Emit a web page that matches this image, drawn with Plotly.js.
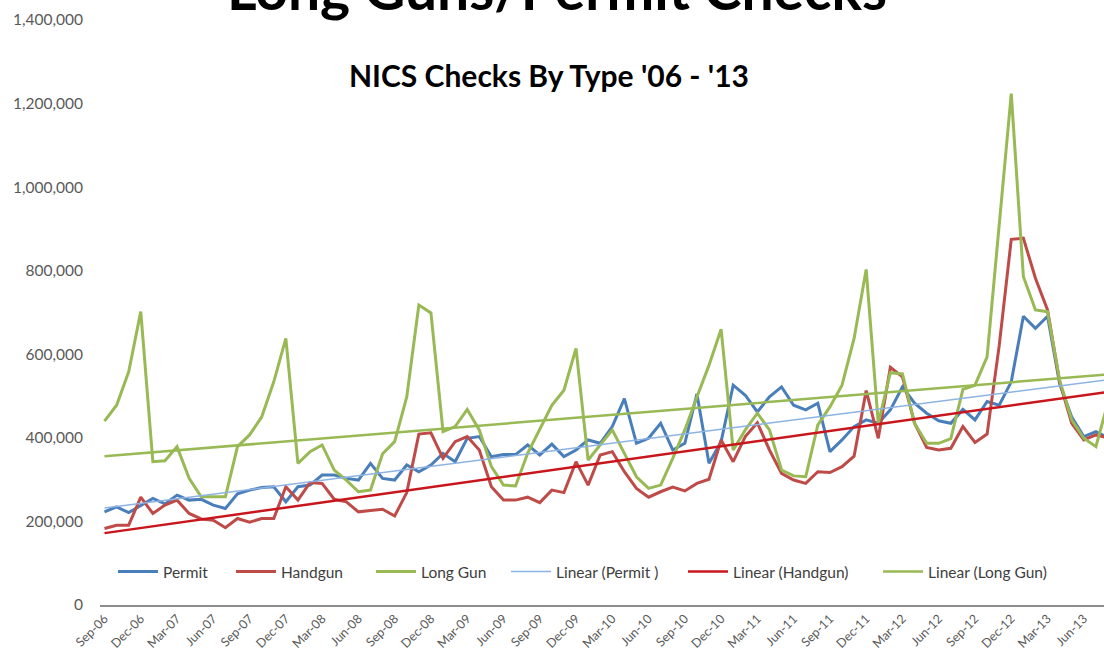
<!DOCTYPE html>
<html><head><meta charset="utf-8">
<script src="https://cdn.plot.ly/plotly-3.0.1.min.js"></script>
<style>html,body{margin:0;padding:0;background:#fff}#chart{width:1104px;height:654px}</style>
</head><body><div id="chart"></div>
<script>
const months = ["Sep-06","Oct-06","Nov-06","Dec-06",
"Jan-07","Feb-07","Mar-07","Apr-07","May-07","Jun-07","Jul-07","Aug-07","Sep-07","Oct-07","Nov-07","Dec-07",
"Jan-08","Feb-08","Mar-08","Apr-08","May-08","Jun-08","Jul-08","Aug-08","Sep-08","Oct-08","Nov-08","Dec-08",
"Jan-09","Feb-09","Mar-09","Apr-09","May-09","Jun-09","Jul-09","Aug-09","Sep-09","Oct-09","Nov-09","Dec-09",
"Jan-10","Feb-10","Mar-10","Apr-10","May-10","Jun-10","Jul-10","Aug-10","Sep-10","Oct-10","Nov-10","Dec-10",
"Jan-11","Feb-11","Mar-11","Apr-11","May-11","Jun-11","Jul-11","Aug-11","Sep-11","Oct-11","Nov-11","Dec-11",
"Jan-12","Feb-12","Mar-12","Apr-12","May-12","Jun-12","Jul-12","Aug-12","Sep-12","Oct-12","Nov-12","Dec-12",
"Jan-13","Feb-13","Mar-13","Apr-13","May-13","Jun-13","Jul-13","Aug-13"];

const tickLabels = ["Sep-06","Dec-06","Mar-07","Jun-07","Sep-07","Dec-07","Mar-08","Jun-08","Sep-08","Dec-08",
"Mar-09","Jun-09","Sep-09","Dec-09","Mar-10","Jun-10","Sep-10","Dec-10","Mar-11","Jun-11","Sep-11","Dec-11",
"Mar-12","Jun-12","Sep-12","Dec-12","Mar-13","Jun-13"];

const permit = [223000,235000,221000,239000,255000,242000,263000,251000,253000,239000,231000,266000,275000,281000,283000,247000,
283000,287000,311000,311000,303000,299000,339000,303000,299000,335000,319000,335000,
363000,343000,399000,403000,355000,360000,360000,383000,359000,385000,355000,371000,
395000,387000,427000,494000,387000,399000,435000,371000,387000,505000,339000,391000,
526000,502000,462000,498000,522000,478000,467000,483000,367000,395000,427000,443000,
435000,467000,522000,483000,459000,441000,435000,468000,443000,487000,478000,534000,
691000,662000,691000,530000,450000,403000,415000,400000];

const handgun = [183000,191000,191000,258000,219000,239000,251000,219000,206000,203000,185000,207000,198000,207000,207000,283000,
251000,293000,291000,253000,247000,223000,226000,229000,213000,269000,409000,412000,
351000,391000,403000,371000,283000,251000,251000,258000,245000,275000,269000,343000,
287000,359000,367000,319000,279000,258000,271000,282000,273000,291000,301000,395000,
343000,403000,436000,371000,315000,299000,291000,319000,317000,331000,356000,513000,
399000,569000,546000,435000,377000,371000,375000,427000,389000,409000,620000,875000,
878000,782000,706000,534000,435000,395000,407000,400000];

const longGun = [440000,478000,558000,702000,343000,345000,379000,303000,259000,259000,259000,379000,407000,450000,534000,638000,
339000,367000,383000,323000,299000,271000,275000,362000,391000,498000,718000,699000,
415000,427000,468000,419000,331000,287000,285000,363000,419000,478000,514000,614000,
347000,383000,419000,363000,307000,279000,287000,351000,419000,498000,574000,660000,
371000,419000,459000,419000,323000,309000,307000,431000,474000,526000,638000,803000,
435000,556000,553000,435000,387000,387000,398000,516000,526000,594000,905000,1224000,
786000,706000,702000,538000,443000,399000,379000,485000];

const trendMonths = ["Sep-06","Aug-13"];
const permitTrend = [232000,539000];
const handgunTrend = [172000,510000];
const longGunTrend = [356000,552000];

const FONT = 'Lato, "Open Sans", sans-serif';
const cBlue = '#4a7ebb', cRed = '#be4b48', cGreen = '#98b954';

function lg(px){ return { x:(px-100)/1004, xanchor:'left', y:(605-572)/585, yanchor:'middle',
  orientation:'h', bgcolor:'rgba(0,0,0,0)', font:{family:FONT,size:15.5,color:'#404040'}, itemwidth:40 }; }

const traces = [
 {x:months,y:permit,name:'Permit',type:'scatter',mode:'lines',line:{color:cBlue,width:3},legend:'legend'},
 {x:months,y:handgun,name:'Handgun',type:'scatter',mode:'lines',line:{color:cRed,width:3},legend:'legend2'},
 {x:months,y:longGun,name:'Long Gun',type:'scatter',mode:'lines',line:{color:cGreen,width:3},legend:'legend3'},
 {x:trendMonths,y:permitTrend,name:'Linear (Permit )',type:'scatter',mode:'lines',line:{color:'#8db3e2',width:1.5},legend:'legend4'},
 {x:trendMonths,y:handgunTrend,name:'Linear (Handgun)',type:'scatter',mode:'lines',line:{color:'#c8161d',width:2.5},legend:'legend5'},
 {x:trendMonths,y:longGunTrend,name:'Linear (Long Gun)',type:'scatter',mode:'lines',line:{color:cGreen,width:2.5},legend:'legend6'}
];

const layout = {
 width:1104, height:654,
 margin:{l:100,r:0,t:20,b:49},
 paper_bgcolor:'#ffffff', plot_bgcolor:'#ffffff',
 font:{family:FONT,color:'#595959'},
 showlegend:true,
 xaxis:{type:'category', categoryorder:'array', categoryarray:months, range:[-0.372,82.67],
   tickmode:'array', tickvals:tickLabels, ticktext:tickLabels, tickangle:-45,
   showgrid:false, zeroline:false, showline:true, linecolor:'#8c8c8c', linewidth:1.5, ticks:'',
   tickfont:{family:FONT,size:12.5,color:'#595959'}},
 yaxis:{range:[0,1400000], dtick:200000, tick0:0, tickformat:',', showgrid:false, zeroline:false,
   showline:false, ticks:'', ticklabelstandoff:16,
   tickfont:{family:FONT,size:15.5,color:'#595959'}},
 legend:lg(113), legend2:lg(231), legend3:lg(371), legend4:lg(506), legend5:lg(683), legend6:lg(878),
 annotations:[
  {text:'<b>Long Guns/Permit Checks</b>', xref:'paper', yref:'paper', x:0.455, y:(605+12)/585,
   xanchor:'center', yanchor:'middle', showarrow:false, font:{family:FONT,size:57,color:'#000000'}},
  {text:'<b>NICS Checks By Type \'06 - \'13</b>', xref:'paper', yref:'paper', x:0.447, y:(605-75)/585,
   xanchor:'center', yanchor:'middle', showarrow:false, font:{family:FONT,size:30,color:'#000000'}}
 ]
};

Plotly.newPlot('chart', traces, layout, {displayModeBar:false, staticPlot:true});
</script></body></html>
